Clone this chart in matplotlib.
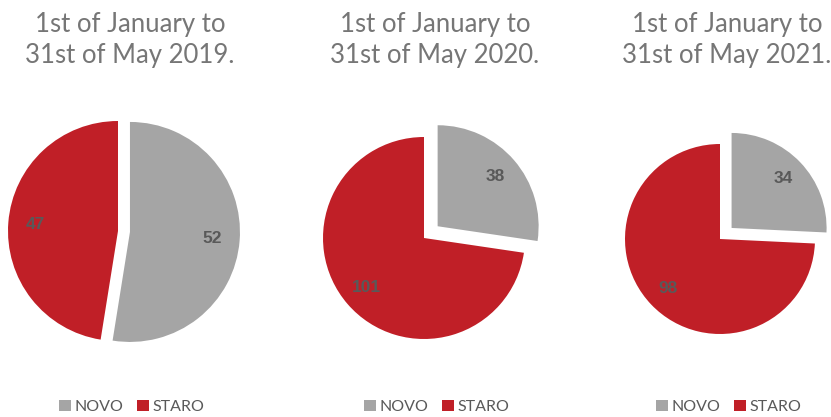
import matplotlib.pyplot as plt

# new vs. old cases for the same five-month window in three years
periods = ['1st of January to\n31st of May 2019.',
           '1st of January to\n31st of May 2020.',
           '1st of January to\n31st of May 2021.']
categories = ['NOVO', 'STARO']
novo = [52, 38, 34]
staro = [47, 101, 98]

# layout in pixels (x, y from the top), radius and pull-out of the NOVO slice
W, H = 831, 417
centers = [(118, 231), (424, 238), (720, 239)]
radii = [110, 101, 95]
pull = [12, 18, 16]
title_x = [130, 435, 727]

colors = ['#A5A5A5', '#C01F27']
label_color = '#595959'

plt.rcParams['font.family'] = ['Lato', 'DejaVu Sans']

fig = plt.figure(figsize=(W / 100, H / 100), dpi=100)
ax = fig.add_axes([0, 0, 1, 1])

for i in range(3):
    vals = [novo[i], staro[i]]
    total = sum(vals)
    cx, cy = centers[i]
    wedges, texts, autotexts = ax.pie(
        vals, colors=colors, startangle=90, counterclock=False,
        explode=[pull[i], 0], center=(cx, H - cy), radius=radii[i],
        autopct=lambda p, t=total: f'{p * t / 100:.0f}', pctdistance=0.75,
        textprops=dict(color=label_color, fontsize=12.5, fontweight='bold',
                       family=['Liberation Sans', 'DejaVu Sans']))

    fig.text(title_x[i] / W, 1 - 40 / H, periods[i], ha='center', va='center',
             fontsize=18.5, color='#767676', linespacing=1.27)

    fig.legend(wedges, categories, loc='center',
               bbox_to_anchor=(title_x[i] / W + 0.002, 10 / H),
               ncol=2, frameon=False, fontsize=11.5, labelcolor=label_color,
               handlelength=0.75, handleheight=0.75, handletextpad=0.2,
               columnspacing=0.9, borderaxespad=0, borderpad=0)

ax.set_xlim(0, W)
ax.set_ylim(0, H)
ax.set_axis_off()

fig.savefig('out.png', dpi=100)
